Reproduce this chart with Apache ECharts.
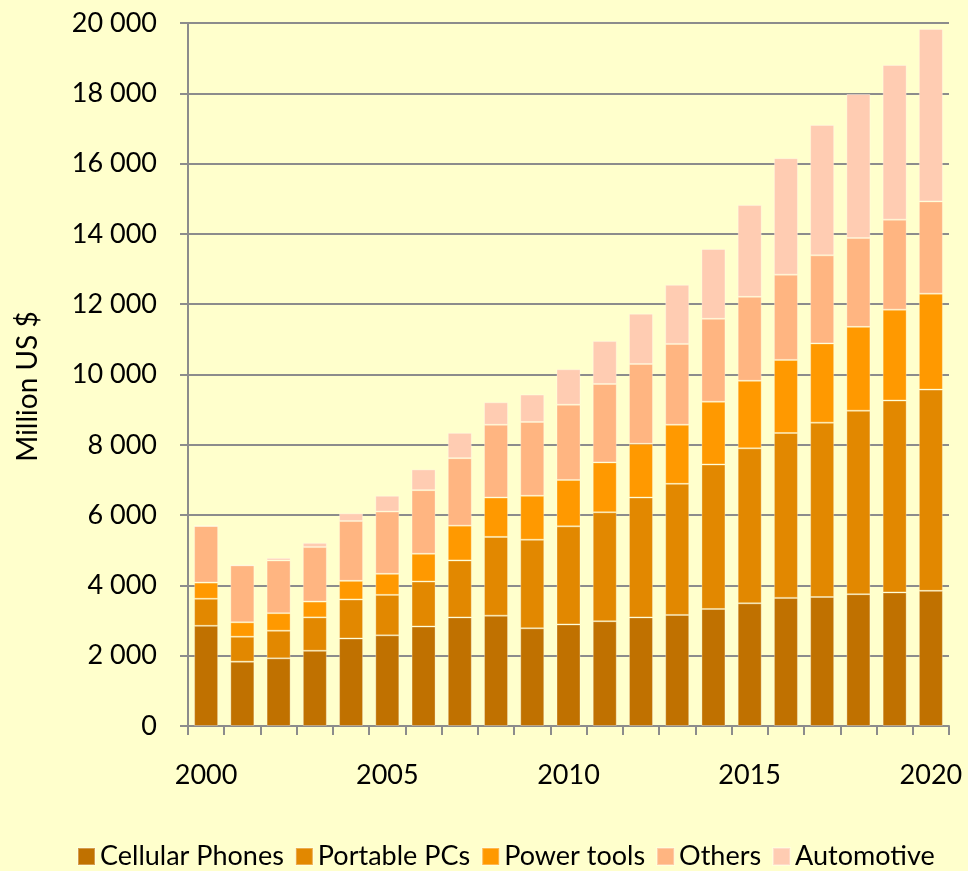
<!DOCTYPE html>
<html>
<head>
<meta charset="utf-8">
<script src="https://cdn.jsdelivr.net/npm/echarts@6/dist/echarts.min.js"></script>
<style>
  html, body { margin: 0; padding: 0; background: #FFFFCC; }
  #chart { width: 968px; height: 871px; }
</style>
</head>
<body>
<div id="chart"></div>
<script>
// years on the x axis
const years = ['2000', '2001', '2002', '2003', '2004', '2005', '2006', '2007', '2008', '2009', '2010',
  '2011', '2012', '2013', '2014', '2015', '2016', '2017', '2018', '2019', '2020'];

// million US $
const cellularPhones = [2850, 1830, 1925, 2140, 2490, 2580, 2830, 3090, 3140, 2780, 2890,
  2980, 3090, 3160, 3330, 3490, 3645, 3670, 3750, 3800, 3845];
const portablePCs = [770, 710, 785, 950, 1110, 1150, 1280, 1620, 2240, 2520, 2790,
  3100, 3410, 3730, 4110, 4410, 4690, 4960, 5220, 5460, 5725];
const powerTools = [460, 410, 500, 450, 530, 600, 790, 990, 1120, 1250, 1320,
  1420, 1530, 1680, 1785, 1920, 2080, 2255, 2385, 2585, 2730];
const others = [1610, 1620, 1500, 1550, 1700, 1770, 1810, 1920, 2070, 2100, 2140,
  2230, 2270, 2300, 2360, 2390, 2425, 2505, 2530, 2560, 2625];
const automotive = [0, 0, 70, 120, 220, 450, 590, 720, 640, 780, 1010,
  1220, 1430, 1680, 1985, 2610, 3315, 3710, 4095, 4400, 4905];

const seriesNames = ['Cellular Phones', 'Portable PCs', 'Power tools', 'Others', 'Automotive'];
const seriesData = [cellularPhones, portablePCs, powerTools, others, automotive];
const colors = ['#C07100', '#E28800', '#FF9900', '#FFB581', '#FFCCB2'];

const fontFamily = 'Lato, "Open Sans", sans-serif';

function fmt(v) {
  return String(v).replace(/\B(?=(\d{3})+(?!\d))/g, ' ');
}

const chart = echarts.init(document.getElementById('chart'));

const option = {
  backgroundColor: '#FFFFCC',
  animation: false,
  color: colors,
  grid: { left: 188, right: 19, top: 23, bottom: 145 },
  legend: {
    left: 72,
    bottom: -4,
    itemWidth: 17,
    itemHeight: 17,
    itemGap: 11,
    icon: 'rect',
    textStyle: { fontFamily: fontFamily, fontSize: 27, color: '#000' },
    data: seriesNames
  },
  xAxis: {
    type: 'category',
    data: years,
    axisLine: { lineStyle: { color: '#8c8c8c', width: 2 } },
    axisTick: { show: true, interval: 0, length: 9, lineStyle: { color: '#8c8c8c', width: 2 } },
    axisLabel: { interval: 4, margin: 36, fontFamily: fontFamily, fontSize: 27, color: '#000' }
  },
  yAxis: {
    type: 'value',
    min: 0,
    max: 20000,
    interval: 2000,
    name: 'Million US $',
    nameLocation: 'middle',
    nameGap: 146,
    nameTextStyle: { fontFamily: fontFamily, fontSize: 28, color: '#000', padding: [0, 24, 0, 0] },
    axisLine: { show: true, lineStyle: { color: '#8c8c8c', width: 2 } },
    axisTick: { show: true, length: 8, lineStyle: { color: '#8c8c8c', width: 2 } },
    splitLine: { lineStyle: { color: '#8c8c8c', width: 2 } },
    axisLabel: { margin: 31, fontFamily: fontFamily, fontSize: 27, color: '#000', formatter: fmt }
  },
  series: seriesNames.map((name, i) => ({
    name: name,
    type: 'bar',
    stack: 'total',
    barWidth: 24,
    data: seriesData[i],
    itemStyle: { borderColor: 'rgba(255,255,255,0.3)', borderWidth: 1 }
  }))
};

chart.setOption(option);
</script>
</body>
</html>
